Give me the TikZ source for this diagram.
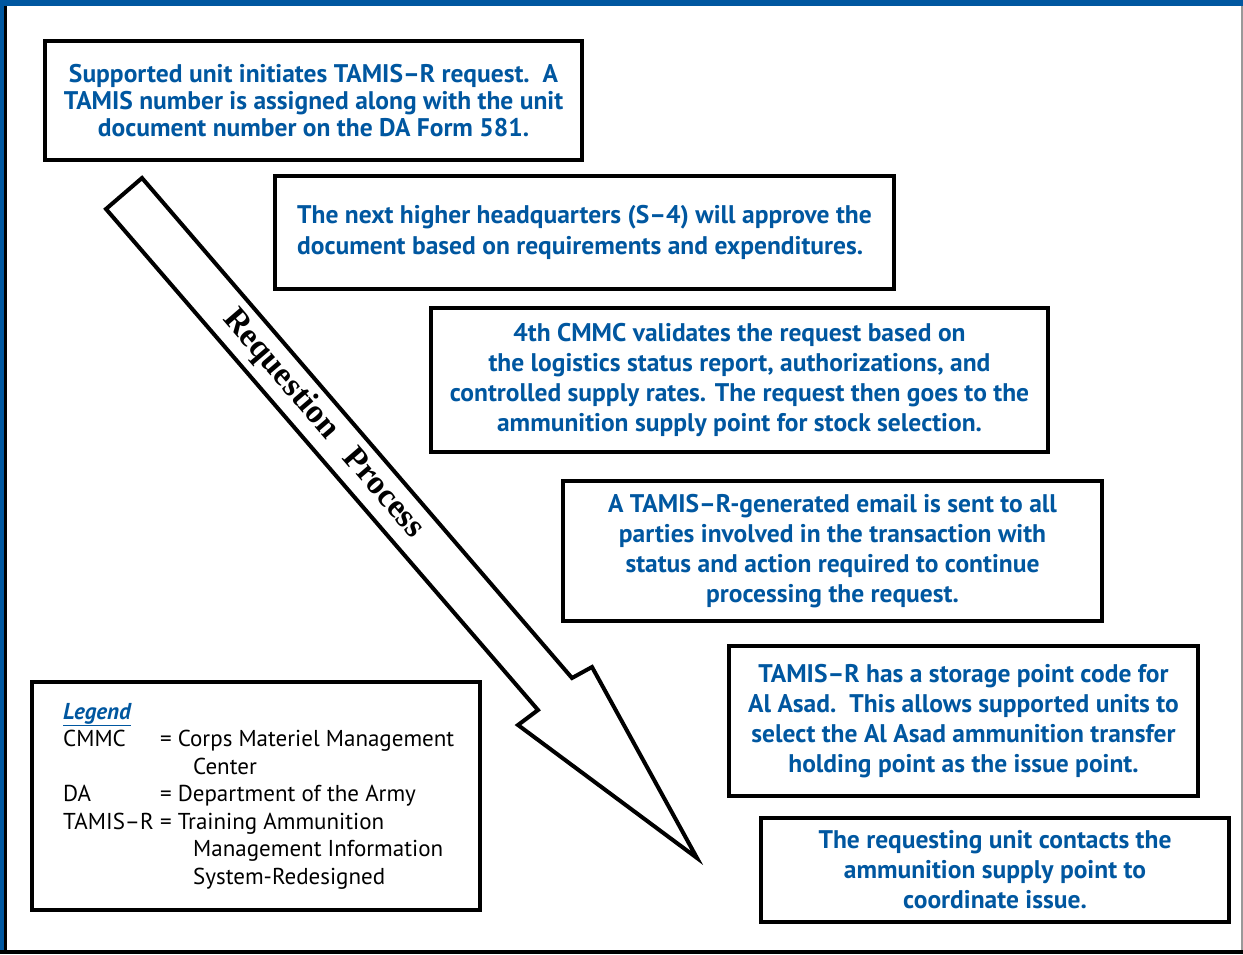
\documentclass[tikz,border=0pt]{standalone}
\usepackage{fontspec}
\setmainfont{PT Sans}
\newfontfamily\arrowfont{Liberation Serif}
\definecolor{armyblue}{HTML}{0057A0}
\definecolor{framegray}{HTML}{999999}
\tikzset{
  stepbox/.style={draw=black, line width=3.5pt, fill=white, inner sep=0pt,
    text=armyblue, font=\bfseries\fontsize{25.5}{30}\selectfont, align=center},
  legendbox/.style={draw=black, line width=3.5pt, fill=white, inner sep=0pt},
  bigarrow/.style={draw=black, line width=4pt, line join=miter, fill=white}
}
\begin{document}
\begin{tikzpicture}[x=1pt,y=-1pt]
\useasboundingbox (0,0) rectangle (1243,954);
% frame
\fill[white] (0,0) rectangle (1243,954);
\fill[armyblue] (0,0) rectangle (1243,6);
\fill[armyblue] (0,0) rectangle (4,954);
\fill[black] (4,6) rectangle (6.5,954);
\fill[black] (0,950) rectangle (1243,954);
\fill[framegray] (1241,6) rectangle (1243,950);

% arrow
\coordinate (t1) at (142,178);
\coordinate (n1) at (572,678);
\coordinate (h1) at (592,667);
\coordinate (tip) at (697,858);
\coordinate (h2) at (518,725);
\coordinate (n2) at (538,710);
\coordinate (t2) at (106,209);
\draw[bigarrow] (t1) -- (n1) -- (h1) -- (tip) -- (h2) -- (n2) -- (t2) -- cycle;
\node[rotate=-49.3, font=\arrowfont\bfseries\fontsize{33.5}{34}\selectfont] (arrowlabel) at (323,424) {Requestion\hspace{0.7em}Process};

% boxes
\node[stepbox, minimum width=537pt, minimum height=119pt, font=\bfseries\fontsize{25.5}{27}\selectfont] (b1) at (313.5,100.5)
 {Supported unit initiates TAMIS--R request.\ \ A\\TAMIS number is assigned along with the unit\\document number on the DA Form 581.};
\node[stepbox, minimum width=619pt, minimum height=113pt, align=left, font=\bfseries\fontsize{25.5}{31}\selectfont] (b2) at (584.5,232.5)
 {The next higher headquarters (S--4) will approve the\\document based on requirements and expenditures.};
\node[stepbox, minimum width=617pt, minimum height=144pt] (b3) at (739.5,380)
 {4th CMMC validates the request based on\\the logistics status report, authorizations, and\\controlled supply rates. The request then goes to the\\ammunition supply point for stock selection.\\[-24pt]\mbox{}};
\node[stepbox, minimum width=539pt, minimum height=140pt] (b4) at (832.5,551)
 {A TAMIS--R-generated email is sent to all\\parties involved in the transaction with\\status and action required to continue\\processing the request.};
\node[stepbox, minimum width=469pt, minimum height=150pt] (b5) at (963.5,721)
 {TAMIS--R has a storage point code for\\Al Asad.\ \ This allows supported units to\\select the Al Asad ammunition transfer\\holding point as the issue point.\\[-25pt]\mbox{}};
\node[stepbox, minimum width=468pt, minimum height=104pt] (b6) at (995,870)
 {The requesting unit contacts the\\ammunition supply point to\\coordinate issue.};

% legend
\node[legendbox, minimum width=448pt, minimum height=228pt] (legend) at (256,796) {};
\node[anchor=north west, inner sep=0pt, align=left, font=\fontsize{23}{27.5}\selectfont] (legendtext) at (63,703)
 {\textcolor{armyblue}{\bfseries\itshape\underline{Legend}}\\
  \makebox[97pt][l]{CMMC}=\hspace{6pt}Corps Materiel Management\\
  \makebox[97pt][l]{}\hspace{33pt}Center\\
  \makebox[97pt][l]{DA}=\hspace{6pt}Department of the Army\\
  \makebox[97pt][l]{TAMIS--R}=\hspace{6pt}Training Ammunition\\
  \makebox[97pt][l]{}\hspace{33pt}Management Information\\
  \makebox[97pt][l]{}\hspace{33pt}System-Redesigned};
\end{tikzpicture}
\end{document}
